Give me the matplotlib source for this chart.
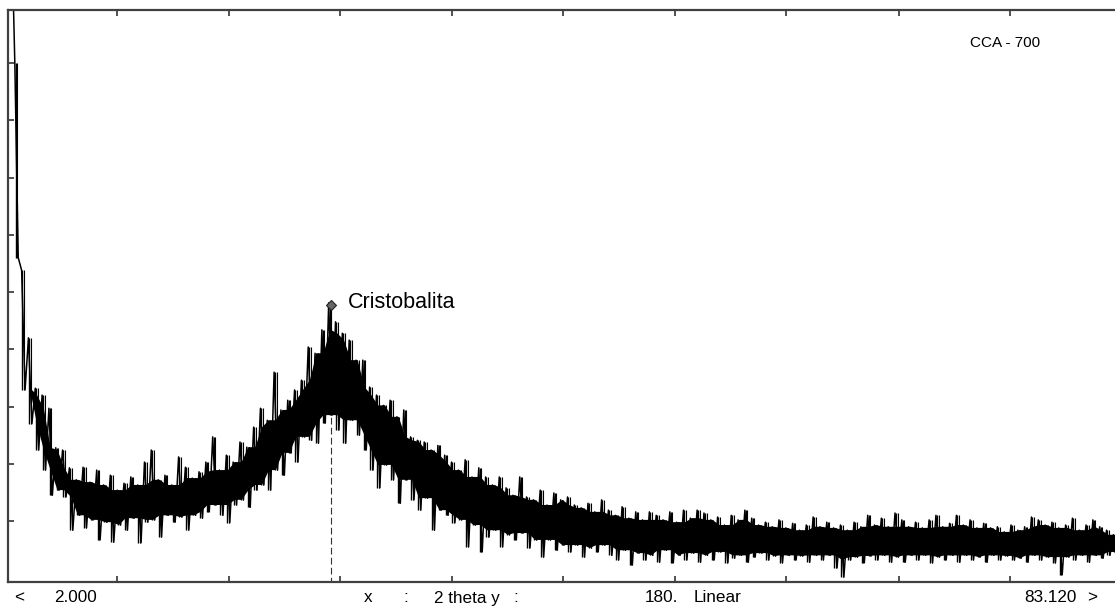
import numpy as np
import matplotlib
matplotlib.use("Agg")
import matplotlib.pyplot as plt

# ---- data ----
x_start, x_end = 2.0, 83.12
step = 0.5
upper = [1200, 900, 538, 420, 332, 320, 297, 228, 224, 193, 172, 194, 168, 189, 163, 180, 154, 166, 177, 163,
         203, 224, 172, 180, 163, 212, 194, 175, 186, 203, 247, 189, 215, 203, 238, 229, 264, 297, 276, 360,
         294, 311, 329, 346, 404, 393, 434, 481, 448, 428, 416, 381, 381, 334, 320, 302, 311, 282, 294, 247,
         241, 238, 224, 232, 215, 203, 189, 207, 177, 193, 177, 163, 177, 158, 145, 177, 142, 137, 154, 128,
         149, 137, 142, 128, 123, 131, 116, 137, 119, 110, 125, 105, 116, 102, 116, 110, 102, 116, 98, 119,
         105, 119, 114, 102, 107, 93, 110, 102, 119, 105, 93, 98, 90, 102, 88, 96, 84, 93, 107, 90,
         98, 88, 93, 84, 98, 90, 110, 93, 105, 90, 114, 102, 90, 98, 88, 102, 110, 90, 96, 110,
         93, 102, 88, 96, 88, 90, 81, 93, 84, 90, 107, 102, 93, 98, 88, 93, 105, 84, 93, 102,
         90, 84, 76]
lower = [1150, 560, 329, 270, 224, 189, 145, 154, 142, 84, 110, 88, 102, 67, 98, 63, 93, 84, 105, 62,
         98, 102, 72, 110, 98, 107, 84, 110, 105, 116, 128, 110, 97, 128, 137, 124, 154, 163, 154, 189,
         180, 219, 203, 247, 241, 236, 271, 285, 259, 236, 276, 250, 224, 189, 158, 198, 172, 131, 172, 137,
         119, 140, 84, 119, 110, 97, 102, 55, 93, 46, 72, 84, 55, 76, 67, 79, 53, 67, 37, 67,
         49, 58, 46, 58, 37, 53, 46, 58, 40, 32, 49, 23, 44, 32, 40, 28, 49, 27, 40, 32,
         44, 28, 40, 32, 46, 27, 35, 40, 28, 37, 44, 32, 39, 27, 40, 32, 39, 28, 40, 32,
         40, 18, 2, 32, 37, 27, 39, 32, 40, 28, 37, 28, 40, 32, 40, 27, 37, 32, 40, 28,
         40, 32, 37, 28, 40, 32, 39, 32, 35, 28, 40, 32, 37, 27, 6, 37, 32, 40, 28, 40,
         35, 40, 46]
peak_pos = 25.65
peak_height = 478
peak_label = "Cristobalita"
sample_label = "CCA - 700"
x_ticks = [9.99, 18.19, 26.33, 34.53, 42.67, 50.87, 59.01, 67.29, 75.42]
y_ticks = [100, 200, 300, 400, 500, 600, 700, 800, 900]

# ---- figure ----
W, H = 1115, 607
fig = plt.figure(figsize=(W / 100, H / 100), dpi=100)
ax = fig.add_axes([8 / W, 1 - 582 / H, 1 - 8 / W, (582 - 10) / H])

n = len(upper)
up = np.asarray(upper, float)
lo = np.asarray(lower, float)
stations = x_start + step * np.arange(n)
xs = np.empty(2 * n)
ys = np.empty(2 * n)
xs[0::2] = stations
xs[1::2] = stations + step / 2
ys[0::2] = up
ys[1::2] = lo

# solid core of the noisy band: where neighbouring sweeps overlap
up_pad = np.concatenate([[up[0]], up, [up[-1]]])
lo_pad = np.concatenate([[lo[0]], lo, [lo[-1]]])
core_top = np.minimum(np.minimum(up_pad[:-2], up_pad[1:-1]), up_pad[2:])
core_bot = np.maximum(np.maximum(lo_pad[:-2], lo_pad[1:-1]), lo_pad[2:])
core_top = np.maximum(core_top, core_bot)

ax.plot([peak_pos, peak_pos], [-10, peak_height - 8], color="#333333", lw=0.8,
        linestyle=(0, (6, 3)), zorder=1)
ax.fill_between(stations + step / 4, core_bot, core_top, color="black", lw=0, zorder=2)
ax.vlines(stations + step / 8, lo, up, color="black", lw=1.0, zorder=2)
ax.vlines(stations + 3 * step / 8, lo, up, color="black", lw=0.8, zorder=2)
ax.plot(xs, ys, color="black", lw=1.1, zorder=2)
ax.plot([peak_pos], [peak_height], marker="D", ms=5, color="#666666", mec="#222222", mew=0.8, zorder=3)
ax.text(peak_pos + 1.25, peak_height + 4, peak_label, fontsize=15.5, family="Liberation Sans",
        va="center", ha="left")
ax.text(0.8692, 1 - 33 / 572, sample_label, transform=ax.transAxes, fontsize=11,
        family="Liberation Sans", va="center", ha="left")

ax.set_xlim(x_start, x_end)
ax.set_ylim(-6.5, 992.6)
ax.set_xticks(x_ticks)
ax.set_yticks(y_ticks)
ax.set_xticklabels([])
ax.set_yticklabels([])
ax.tick_params(axis="both", direction="in", length=4.5, width=1.1, color="#222222",
               top=True, bottom=True, left=True, right=False)
for s in ["left", "top", "bottom"]:
    ax.spines[s].set_color("#404040")
    ax.spines[s].set_linewidth(1.6)
ax.spines["right"].set_visible(False)

# bottom status text
ty = 1 - 598 / H
fs = 12.3
fam = "Liberation Sans"
fig.text(14 / W, ty, "<", fontsize=fs, family=fam, va="center", ha="left")
fig.text(54 / W, ty, "2.000", fontsize=fs, family=fam, va="center", ha="left")
fig.text(364 / W, ty, "x", fontsize=fs, family=fam, va="center", ha="left")
fig.text(403 / W, ty, ":", fontsize=fs, family=fam, va="center", ha="left")
fig.text(434 / W, ty, "2 theta y", fontsize=fs, family=fam, va="center", ha="left")
fig.text(513 / W, ty, ":", fontsize=fs, family=fam, va="center", ha="left")
fig.text(645 / W, ty, "180.", fontsize=fs, family=fam, va="center", ha="left")
fig.text(694 / W, ty, "Linear", fontsize=fs, family=fam, va="center", ha="left")
fig.text(1024 / W, ty, "83.120", fontsize=fs, family=fam, va="center", ha="left")
fig.text(1087 / W, ty, ">", fontsize=fs, family=fam, va="center", ha="left")

fig.savefig("out.png", dpi=100)
